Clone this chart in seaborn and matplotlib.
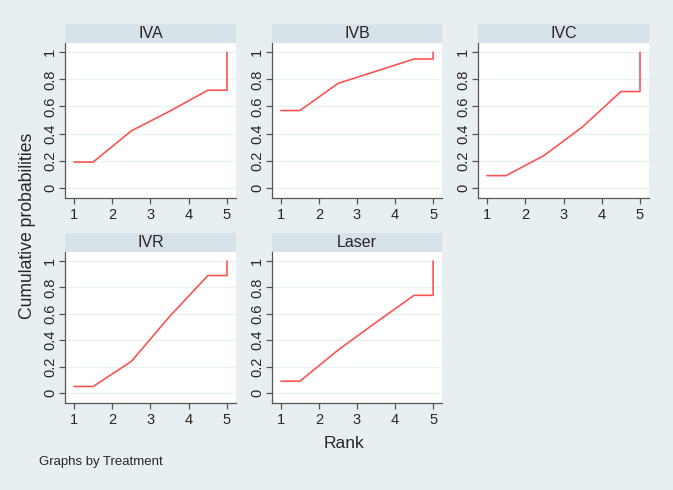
import pandas as pd
import matplotlib.pyplot as plt
import seaborn as sns
from matplotlib.patches import Rectangle

# cumulative ranking curves
rank = [1, 1.5, 2.5, 3.5, 4.5, 5, 5]
treatments = ["IVA", "IVB", "IVC", "IVR", "Laser"]
iva = [0.19, 0.19, 0.42, 0.565, 0.72, 0.72, 1.0]
ivb = [0.57, 0.57, 0.77, 0.86, 0.95, 0.95, 1.0]
ivc = [0.09, 0.09, 0.24, 0.45, 0.71, 0.71, 1.0]
ivr = [0.05, 0.05, 0.24, 0.58, 0.89, 0.89, 1.0]
laser = [0.09, 0.09, 0.325, 0.535, 0.74, 0.74, 1.0]
yticks = [0, 0.2, 0.4, 0.6, 0.8, 1]
ytick_labels = ["0", "0.2", "0.4", "0.6", "0.8", "1"]
xticks = [1, 2, 3, 4, 5]

BG = "#e8eff3"
STRIP = "#d7e2e9"
LINE = "#fa5552"

sns.set_style("white")
plt.rcParams['font.family'] = ['Liberation Sans', 'DejaVu Sans']

rows = []
for name, vals in zip(treatments, [iva, ivb, ivc, ivr, laser]):
    for r, v in zip(rank, vals):
        rows.append({"Treatment": name, "Rank": r, "Cum": v})
df = pd.DataFrame(rows)

g = sns.FacetGrid(df, col="Treatment", col_wrap=3, sharex=False, sharey=False)
g.map_dataframe(sns.lineplot, x="Rank", y="Cum", sort=False, estimator=None,
                color=LINE, linewidth=1.2)

fig = g.figure
fig.set_size_inches(6.73, 4.9)
fig.set_dpi(100)
fig.patch.set_facecolor(BG)

W, H = 673, 490
# pixel boxes (left, top, right, bottom) of each plot area
boxes = [(65, 43, 236, 198), (272, 43, 442, 198), (478, 43, 649, 198),
         (65, 252, 236, 403), (272, 252, 442, 403)]

for ax, name, (l, t, r, b) in zip(g.axes.flat, treatments, boxes):
    ax.set_position([l / W, 1 - b / H, (r - l) / W, (b - t) / H])
    ax.set_facecolor("white")
    ax.set_xlim(0.765, 5.235)
    ax.set_ylim(-0.075, 1.068)
    ax.set_xticks(xticks)
    ax.set_xticklabels([str(x) for x in xticks])
    ax.set_yticks(yticks)
    ax.set_yticklabels(ytick_labels, rotation=90, va="center")
    for y in yticks:
        ax.axhline(y, color="#e9f0f3", lw=0.9, zorder=0)
    for s in ["top", "right"]:
        ax.spines[s].set_visible(False)
    for s in ["left", "bottom"]:
        ax.spines[s].set_color("#555555")
        ax.spines[s].set_linewidth(0.9)
    ax.tick_params(axis="both", direction="out", length=4, width=0.9,
                   color="#555555", labelsize=10.5, left=True, bottom=True)
    ax.tick_params(axis="y", pad=1.5)
    ax.tick_params(axis="x", pad=3)
    ax.set_xlabel("")
    ax.set_ylabel("")
    ax.set_title("")
    # strip header
    sh = 19 / (b - t)
    ax.add_patch(Rectangle((0, 1), 1, sh, transform=ax.transAxes,
                           facecolor=STRIP, edgecolor="none", clip_on=False))
    ax.text(0.5, 1 + sh / 2, name, transform=ax.transAxes, ha="center",
            va="center", fontsize=11.5)

fig.text(28 / W, 1 - 226 / H, "Cumulative probabilities", rotation=90,
         ha="center", va="center", fontsize=12.7)
fig.text(344 / W, 1 - 443 / H, "Rank", ha="center", va="center", fontsize=12.5)
fig.text(39 / W, 1 - 462 / H, "Graphs by Treatment", ha="left", va="center",
         fontsize=9.5)

fig.savefig("out.png", dpi=100, facecolor=BG)
